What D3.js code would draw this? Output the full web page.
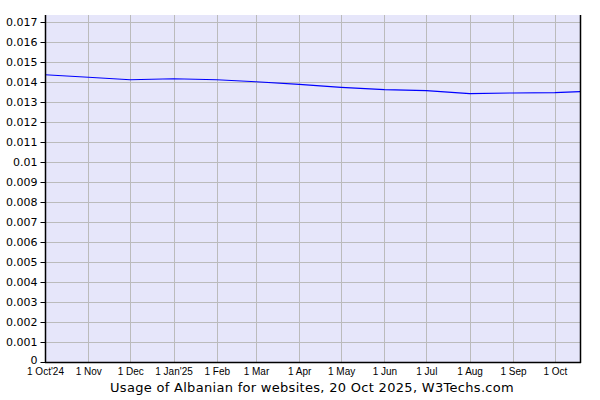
<!DOCTYPE html>
<html><head><meta charset="utf-8">
<script src="https://cdn.jsdelivr.net/npm/d3@7"></script>
<style>body{margin:0;background:#fff}svg{display:block}</style>
</head><body>
<svg id="c" width="600" height="400"></svg>
<script>
const dates = ["2024-10-01","2024-11-01","2024-12-01","2025-01-01","2025-02-01","2025-03-01","2025-04-01","2025-05-01","2025-06-01","2025-07-01","2025-08-01","2025-09-01","2025-10-01","2025-10-19"];
const values = [0.01436,0.01424,0.01411,0.01416,0.01411,0.01401,0.01388,0.01373,0.01362,0.01357,0.01342,0.01345,0.01347,0.01352];
const tickDates = ["2024-10-01","2024-11-01","2024-12-01","2025-01-01","2025-02-01","2025-03-01","2025-04-01","2025-05-01","2025-06-01","2025-07-01","2025-08-01","2025-09-01","2025-10-01"];
const tickLabels = ["1 Oct'24","1 Nov","1 Dec","1 Jan'25","1 Feb","1 Mar","1 Apr","1 May","1 Jun","1 Jul","1 Aug","1 Sep","1 Oct"];
const yTicks = [0,0.001,0.002,0.003,0.004,0.005,0.006,0.007,0.008,0.009,0.01,0.011,0.012,0.013,0.014,0.015,0.016,0.017];
const title = "Usage of Albanian for websites, 20 Oct 2025, W3Techs.com";

const parse = d3.utcParse("%Y-%m-%d");
const svg = d3.select("#c");
const L=45, R=580, T=15, B=362;
const x = d3.scaleUtc().domain([parse("2024-10-01"), parse("2025-10-19")]).range([L,R]);
const y = d3.scaleLinear().domain([0,0.01735]).range([B,T]);

svg.append("rect").attr("x",L).attr("y",T).attr("width",R-L).attr("height",B-T).attr("fill","#e6e6fa");

// horizontal grid
svg.append("g").selectAll("line").data(yTicks.slice(1)).join("line")
  .attr("x1",L).attr("x2",R).attr("y1",d=>Math.round(y(d))+0.5).attr("y2",d=>Math.round(y(d))+0.5)
  .attr("stroke","#bbbbbb").attr("stroke-width",1);
// vertical grid
svg.append("g").selectAll("line").data(tickDates.slice(1)).join("line")
  .attr("x1",d=>Math.round(x(parse(d)))+0.5).attr("x2",d=>Math.round(x(parse(d)))+0.5)
  .attr("y1",T).attr("y2",B).attr("stroke","#bbbbbb").attr("stroke-width",1);

// line
const line = d3.line().x((d,i)=>x(parse(dates[i]))).y(d=>y(d));
svg.append("path").datum(values).attr("d",line).attr("fill","none").attr("stroke","#0000ff").attr("stroke-width",1.1);

// y axis
const yAxis = d3.axisLeft(y).tickValues(yTicks).tickSize(5).tickFormat(d=>String(+d.toFixed(3)));
const gy = svg.append("g").attr("transform",`translate(${L+0.5},0)`).call(yAxis);
gy.select(".domain").remove();
gy.selectAll(".tick line").attr("stroke","#000");
gy.selectAll(".tick text").attr("x",-8).attr("font-family","DejaVu Sans, Verdana, sans-serif").attr("font-size","11px").attr("fill","#000");
gy.selectAll(".tick text").filter(d=>d===0).attr("dy","0.1em");

// x axis labels
const xAxis = d3.axisBottom(x).tickValues(tickDates.map(parse)).tickSize(0).tickFormat((d,i)=>tickLabels[i]);
const gx = svg.append("g").attr("transform",`translate(0,${B})`).call(xAxis);
gx.select(".domain").remove();
gx.selectAll(".tick text").attr("y",6).attr("font-family","Liberation Sans, Arial, sans-serif").attr("font-size","10px").attr("fill","#000");

// axis lines
svg.append("line").attr("x1",L+0.5).attr("x2",L+0.5).attr("y1",T).attr("y2",B+1).attr("stroke","#000").attr("stroke-width",1.5);
svg.append("line").attr("x1",L).attr("x2",R+1).attr("y1",B+0.5).attr("y2",B+0.5).attr("stroke","#000").attr("stroke-width",1.5);
svg.append("line").attr("x1",R+0.5).attr("x2",R+0.5).attr("y1",T).attr("y2",B+1).attr("stroke","#000").attr("stroke-width",1.5);

svg.append("text").attr("x",312).attr("y",392).attr("text-anchor","middle").attr("letter-spacing","0.3px")
  .attr("font-family","DejaVu Sans, Verdana, sans-serif").attr("font-size","13px").attr("fill","#000").text(title);
</script>
</body></html>
